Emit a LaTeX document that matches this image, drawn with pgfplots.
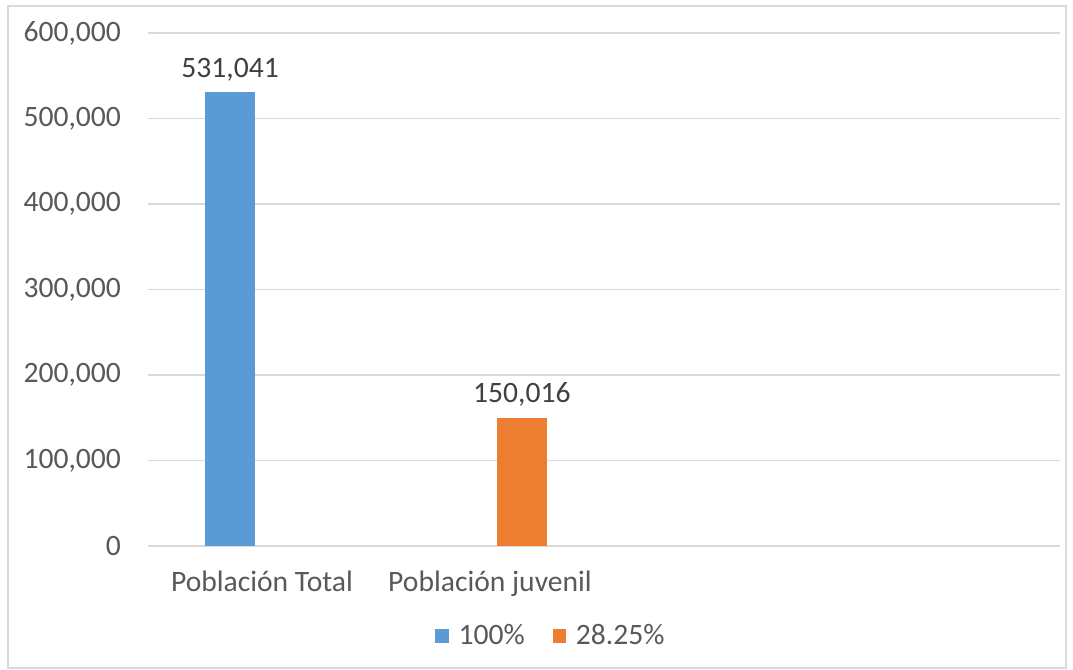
\documentclass[border=0pt]{standalone}
\usepackage{pgfplots}
\pgfplotsset{compat=1.18}
\usepackage{fontspec}
\setmainfont{Carlito}
\definecolor{xblue}{HTML}{5B9BD5}
\definecolor{xorange}{HTML}{ED7D31}
\definecolor{xgrid}{HTML}{D9D9D9}
\definecolor{xtext}{HTML}{595959}
\definecolor{xlabel}{HTML}{404040}
\newcommand\cf{\fontsize{14.8}{17.8}\selectfont}
\begin{document}
\begin{tikzpicture}
\path[use as bounding box] (0,0) rectangle (536.5pt,335pt);
\draw[xgrid, line width=1pt] (4pt,1pt) rectangle (533pt,332pt);
\begin{axis}[
    at={(74pt,62pt)}, anchor=south west,
    scale only axis, width=456pt, height=256.5pt,
    xmin=-0.5, xmax=3.5, ymin=0, ymax=600000,
    axis lines=left,
    axis line style={draw=none,-},
    major tick length=0pt,
    ymajorgrids, grid style={xgrid, line width=0.9pt},
    ytick={0,100000,...,600000},
    scaled y ticks=false,
    /pgf/number format/.cd, fixed, precision=0, 1000 sep={,}, assume math mode=true,
    /pgfplots/.cd,
    yticklabel style={font=\cf, text=xtext, anchor=east, xshift=-10pt},
    xtick={0,1},
    xticklabels={Población Total, Población juvenil},
    xticklabel style={font=\cf, text=xtext, anchor=north, yshift=-9pt},
    ybar, bar width=0.219,
    nodes near coords,
    every node near coord/.append style={font=\cf, text=xlabel, yshift=2pt},
    legend columns=2,
    legend style={at={(0.443,-0.1754)}, anchor=center, draw=none, fill=none,
        font=\cf, text=xtext,
        /tikz/every odd column/.append style={column sep=3pt},
        /tikz/every even column/.append style={column sep=12pt}},
    legend image code/.code={\fill[#1] (0pt,-3.3pt) rectangle (6.6pt,3.3pt);},
]
\addplot[fill=xblue, draw=none, bar shift=-0.14] coordinates {(0,531041)};
\addlegendentry{100\%}
\addplot[fill=xorange, draw=none, bar shift=0.14] coordinates {(1,150016)};
\addlegendentry{28.25\%}
\end{axis}
\end{tikzpicture}
\end{document}
